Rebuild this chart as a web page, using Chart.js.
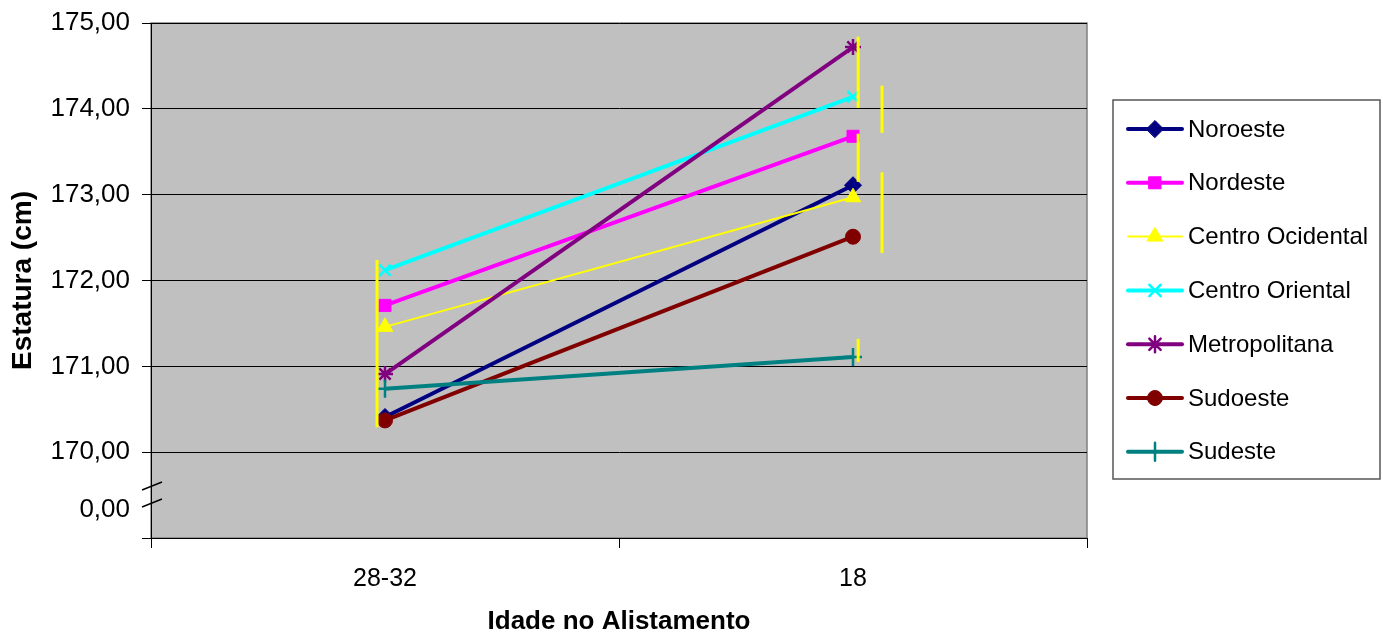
<!DOCTYPE html>
<html>
<head>
<meta charset="utf-8">
<script src="https://cdn.jsdelivr.net/npm/chart.js@4.4.0/dist/chart.umd.min.js"></script>
<style>
    html, body { margin: 0; padding: 0; background: #fff; }
    #wrap { width: 1383px; height: 632px; }
</style>
</head>
<body>
<div id="wrap"><canvas id="chart" width="1383" height="632"></canvas></div>
<script>
// ========== 数据 ==========
const categories = ['28-32', '18'];

const seriesNames = ['Noroeste', 'Nordeste', 'Centro Ocidental', 'Centro Oriental', 'Metropolitana', 'Sudoeste', 'Sudeste'];
const noroeste = [170.41, 173.11];
const nordeste = [171.71, 173.68];
const centroOcidental = [171.46, 172.97];
const centroOriental = [172.12, 174.14];
const metropolitana = [170.91, 174.72];
const sudoeste = [170.37, 172.51];
const sudeste = [170.74, 171.11];

// 纵轴刻度（底部 "0,00" 为断轴标签）
const yTicks = [169, 169.33, 170, 171, 172, 173, 174, 175];
const yTickLabels = ['', '0,00', '170,00', '171,00', '172,00', '173,00', '174,00', '175,00'];

// 误差线片段：x 为类别序号（小数表示偏移），lo/hi 为数值
const errX = [-0.017, 1.011, 1.011, 1.011, 1.062, 1.062];
const errLo = [170.29, 174.01, 173.15, 171.05, 173.72, 172.32];
const errHi = [172.24, 174.84, 173.71, 171.32, 174.27, 173.26];

// ========== 样式 ==========
const FONT = '"Liberation Sans", Arial, sans-serif';
const styles = [
    { color: '#000080', point: 'rectRot', radius: 8.5, width: 4 },
    { color: '#FF00FF', point: 'rect', radius: 8.5, width: 4 },
    { color: '#FFFF00', point: 'triangle', radius: 9, width: 2 },
    { color: '#00FFFF', point: 'crossRot', radius: 8, width: 4 },
    { color: '#800080', point: 'star', radius: 8, width: 4 },
    { color: '#800000', point: 'circle', radius: 7.5, width: 4 },
    { color: '#008080', point: 'cross', radius: 9, width: 4 }
];
const seriesData = [noroeste, nordeste, centroOcidental, centroOriental, metropolitana, sudoeste, sudeste];

const isStroked = p => p === 'cross' || p === 'crossRot' || p === 'star';

const datasets = seriesNames.map((name, i) => ({
    label: name,
    data: seriesData[i],
    borderColor: styles[i].color,
    backgroundColor: styles[i].color,
    borderWidth: styles[i].width,
    pointStyle: styles[i].point,
    pointRadius: styles[i].radius,
    pointHoverRadius: styles[i].radius,
    pointBorderWidth: isStroked(styles[i].point) ? 2.5 : 1,
    pointBorderColor: styles[i].color,
    pointBackgroundColor: styles[i].color,
    tension: 0,
    order: seriesNames.length - i
}));

// ========== 插件 ==========
const plotBg = {
    id: 'plotBg',
    beforeDraw(chart) {
        const { ctx, chartArea: a } = chart;
        ctx.save();
        ctx.fillStyle = '#C0C0C0';
        ctx.fillRect(a.left, a.top, a.right - a.left, a.bottom - a.top);
        ctx.strokeStyle = '#808080';
        ctx.lineWidth = 1.5;
        ctx.strokeRect(a.left, a.top, a.right - a.left, a.bottom - a.top);
        ctx.restore();
    }
};

const extras = {
    id: 'extras',
    afterDatasetsDraw(chart) {
        const { ctx, scales: { x, y } } = chart;
        ctx.save();
        // 误差线
        ctx.strokeStyle = '#FFFF00';
        ctx.lineWidth = 3;
        errX.forEach((xv, i) => {
            const px = x.getPixelForValue(xv);
            ctx.beginPath();
            ctx.moveTo(px, y.getPixelForValue(errLo[i]));
            ctx.lineTo(px, y.getPixelForValue(errHi[i]));
            ctx.stroke();
        });
        ctx.restore();
    },
    afterDraw(chart) {
        const { ctx, chartArea: a } = chart;
        ctx.save();
        // 断轴标记
        ctx.strokeStyle = '#000';
        ctx.lineWidth = 1.5;
        [490, 507].forEach(yy => {
            ctx.beginPath();
            ctx.moveTo(a.left - 9, yy);
            ctx.lineTo(a.left + 11, yy - 8);
            ctx.stroke();
        });

        // 图例
        const lx = 1113, ly = 100, lw = 267, lh = 379;
        ctx.fillStyle = '#fff';
        ctx.fillRect(lx, ly, lw, lh);
        ctx.strokeStyle = '#555';
        ctx.lineWidth = 1.5;
        ctx.strokeRect(lx, ly, lw, lh);
        ctx.font = '24px ' + FONT;
        ctx.textBaseline = 'middle';
        ctx.textAlign = 'left';
        chart.data.datasets.forEach((ds, i) => {
            const cy = 129 + i * 53.8;
            ctx.strokeStyle = ds.borderColor;
            ctx.fillStyle = ds.borderColor;
            ctx.lineWidth = ds.borderWidth;
            ctx.lineCap = 'round';
            ctx.beginPath();
            ctx.moveTo(1128, cy);
            ctx.lineTo(1182, cy);
            ctx.stroke();
            ctx.lineWidth = ds.pointBorderWidth;
            Chart.helpers.drawPoint(ctx, {
                pointStyle: ds.pointStyle,
                radius: ds.pointRadius,
                borderWidth: ds.pointBorderWidth,
                rotation: 0
            }, 1155, cy);
            ctx.fillStyle = '#000';
            ctx.fillText(ds.label, 1188, cy + 1);
        });
        ctx.restore();
    }
};

// ========== 图表 ==========
const ctx = document.getElementById('chart').getContext('2d');
new Chart(ctx, {
    type: 'line',
    data: { labels: categories, datasets: datasets },
    plugins: [plotBg, extras],
    options: {
        responsive: false,
        animation: false,
        layout: { padding: { top: 23, right: 296, left: 0, bottom: 0 } },
        plugins: {
            legend: { display: false },
            tooltip: { enabled: false }
        },
        scales: {
            x: {
                type: 'category',
                offset: true,
                afterFit: s => { s.height = 94; },
                grid: { drawOnChartArea: false, offset: true, color: '#000', tickLength: 10 },
                border: { color: '#000', width: 1 },
                ticks: { color: '#000', font: { size: 25, family: FONT }, padding: 16, maxRotation: 0 },
                title: {
                    display: true, text: 'Idade no Alistamento', color: '#000',
                    font: { size: 26, weight: 'bold', family: FONT }, padding: { top: 0, bottom: -5 }
                }
            },
            y: {
                min: 169, max: 175,
                afterFit: s => { s.width = 151; },
                afterBuildTicks: s => { s.ticks = yTicks.map(v => ({ value: v })); },
                grid: {
                    color: c => c.tick && c.tick.value === 169.33 ? 'rgba(0,0,0,0)' : '#000',
                    tickColor: c => c.tick && c.tick.value === 169.33 ? 'rgba(0,0,0,0)' : '#000',
                    tickLength: 9
                },
                border: { color: '#000', width: 1 },
                ticks: {
                    color: '#000', font: { size: 26, family: FONT, lineHeight: 0.8 }, padding: 12,
                    autoSkip: false,
                    callback: (v, i) => yTickLabels[i]
                },
                title: {
                    display: true, text: 'Estatura (cm)', color: '#000',
                    font: { size: 28, weight: 'bold', family: FONT }, padding: { top: 6, bottom: 0 }
                }
            }
        }
    }
});
</script>
</body>
</html>
